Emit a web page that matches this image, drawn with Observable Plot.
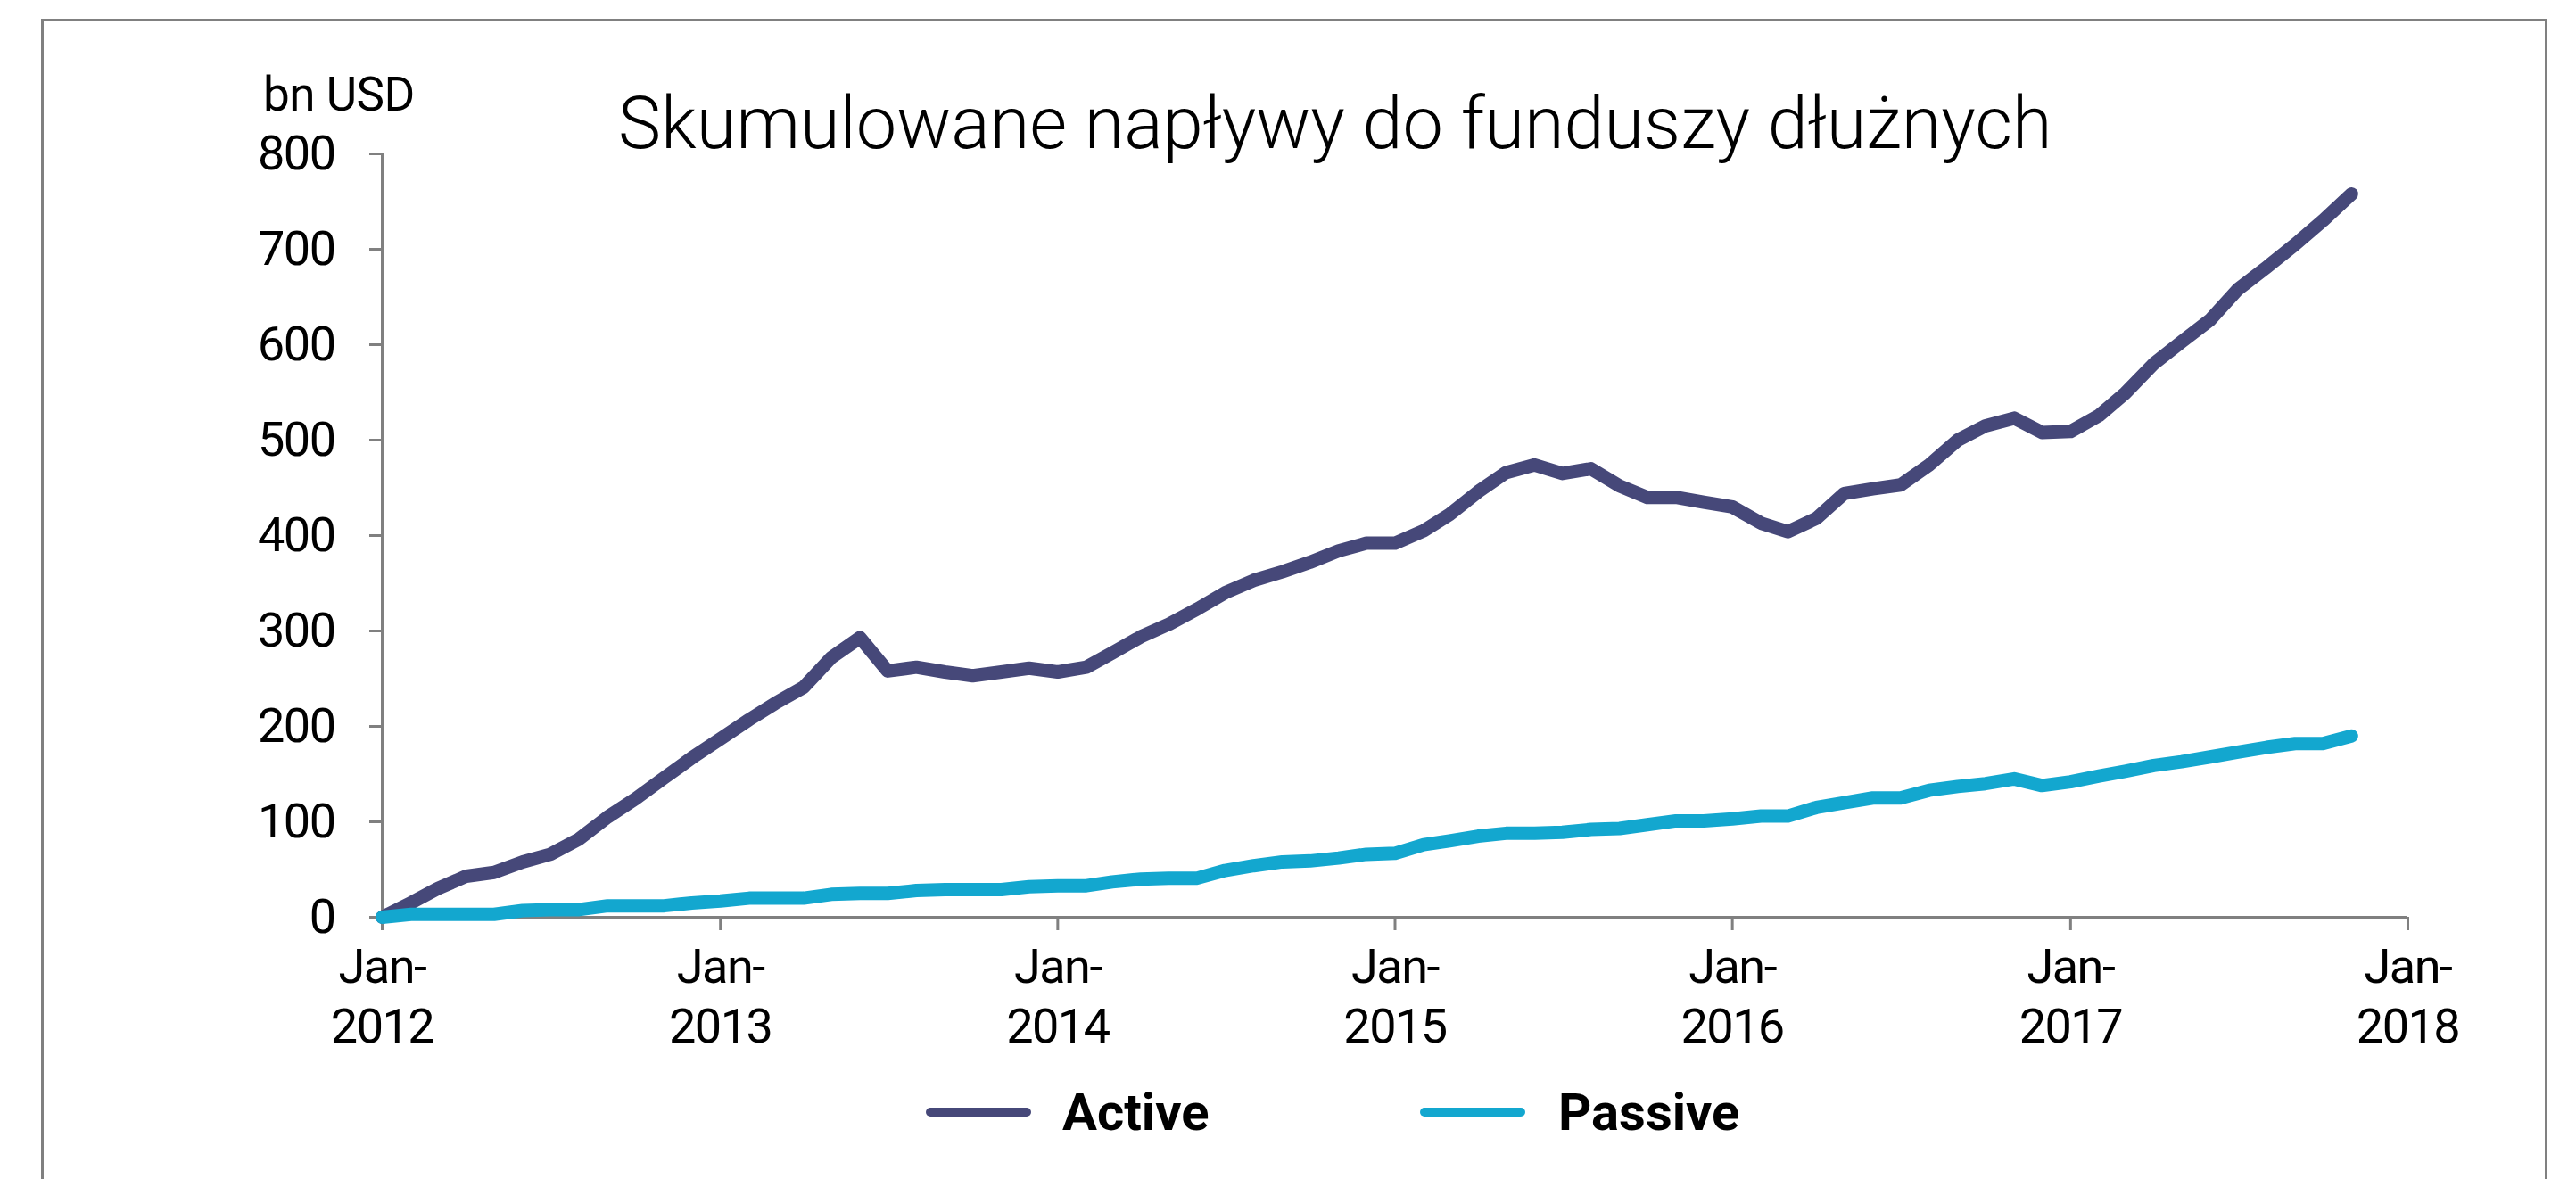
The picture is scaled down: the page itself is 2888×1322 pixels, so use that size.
<!DOCTYPE html>
<html>
<head>
<meta charset="utf-8">
<script src="https://cdn.jsdelivr.net/npm/d3@7"></script>
<script src="https://cdn.jsdelivr.net/npm/@observablehq/plot@0.6"></script>
<style>
  html, body { margin: 0; padding: 0; background: #fff; width: 2888px; height: 1322px; overflow: hidden; }
  #wrap { position: relative; width: 2888px; height: 1322px; }
  #frame { position: absolute; left: 46px; top: 21px; width: 2810px; height: 1420px; border: 3px solid #808080; box-sizing: border-box; }
  #chart { position: absolute; left: 0; top: 0; }
  #chart svg text { letter-spacing: -1.5px; }
  #title { position: absolute; left: 693px; top: 98px; font-family: Roboto, sans-serif; font-weight: 300; font-size: 81px; line-height: 81px; color: #000; white-space: nowrap; }
  #unit { position: absolute; left: 295px; top: 80px; font-family: Roboto, sans-serif; font-size: 53px; line-height: 53px; color: #000; white-space: nowrap; letter-spacing: -0.5px; }
  #legend { position: absolute; left: 0; top: 1218px; width: 2888px; height: 58px; }
  .sw { position: absolute; top: 24px; width: 118px; height: 10px; border-radius: 5px; }
  .lt { position: absolute; top: 0; height: 58px; line-height: 58px; font-family: Roboto, sans-serif; font-weight: 700; font-size: 58px; color: #000; white-space: nowrap; }
</style>
</head>
<body>
<div id="wrap">
  <div id="frame"></div>
  <div id="chart"></div>
  <div id="title"></div>
  <div id="unit"></div>
  <div id="legend"></div>
</div>
<script>
// ---- data (monthly, starting Jan 2012) ----
const firstMonth = "2012-01-01";
const seriesNames = ["Active", "Passive"];
const seriesColors = ["#464879", "#13a7cf"];
const active = [
  0, 15, 30, 43, 47, 58, 66, 82, 105, 124, 146, 167,
  187, 207, 224, 241, 272, 293, 258, 262, 257, 253, 257, 261,
  257, 262, 277, 294, 307, 323, 340, 353, 362, 372, 384, 392,
  392, 405, 422, 446, 466, 474, 465, 470, 452, 440, 440, 435,
  430, 413, 404, 418, 444, 449, 453, 474, 500, 515, 523, 508,
  509, 526, 549, 580, 603, 626, 658, 681, 705, 730, 758
];
const passive = [
  0, 3, 3, 3, 3, 7, 8, 8, 12, 12, 12, 15,
  17, 20, 20, 20, 24, 25, 25, 28, 29, 29, 29, 32,
  33, 33, 37, 40, 41, 41, 49, 54, 58, 59, 62, 66,
  67, 76, 80, 85, 88, 88, 89, 92, 93, 97, 101, 101,
  103, 106, 106, 115, 120, 125, 125, 133, 137, 140, 145, 138,
  142, 148, 153, 159, 163, 168, 173, 178, 182, 182, 190
];
const yTicks = [0, 100, 200, 300, 400, 500, 600, 700, 800];
const xTickYears = [2012, 2013, 2014, 2015, 2016, 2017, 2018];
const xTickPrefix = "Jan-";
const titleText = "Skumulowane napływy do funduszy dłużnych";
const unitText = "bn USD";

// ---- build table ----
const start = new Date(firstMonth + "T00:00:00Z");
const monthAt = i => d3.utcMonth.offset(start, i);
const table = [];
active.forEach((v, i) => table.push({date: monthAt(i), value: v, series: seriesNames[0]}));
passive.forEach((v, i) => table.push({date: monthAt(i), value: v, series: seriesNames[1]}));
const xTicks = xTickYears.map(y => new Date(Date.UTC(y, 0, 1)));

const W = 2888, H = 1200;
const axisColor = "#808080";

const chart = Plot.plot({
  width: W,
  height: H,
  marginLeft: 428,
  marginRight: W - 2699,
  marginTop: 172,
  marginBottom: H - 1028,
  style: {fontFamily: "Roboto, sans-serif", fontSize: "54px", color: "#000", background: "transparent", overflow: "visible"},
  x: {type: "utc", domain: [xTicks[0], xTicks[xTicks.length - 1]]},
  y: {domain: [0, 800]},
  color: {domain: seriesNames, range: seriesColors},
  marks: [
    Plot.axisY({ticks: yTicks, tickSize: 14, tickPadding: 39, stroke: axisColor, strokeWidth: 3, label: null, tickFormat: d => String(d)}),
    Plot.axisX({ticks: xTicks, tickSize: 15, tickPadding: 11, stroke: axisColor, strokeWidth: 3, label: null, lineHeight: 1.24, tickFormat: d => xTickPrefix + "\n" + d.getUTCFullYear()}),
    Plot.ruleY([0], {stroke: axisColor, strokeWidth: 3}),
    Plot.ruleX([xTicks[0]], {y1: 0, y2: 800, stroke: axisColor, strokeWidth: 3}),
    Plot.line(table, {x: "date", y: "value", z: "series", stroke: "series", strokeWidth: 15, strokeLinejoin: "round", strokeLinecap: "round"})
  ]
});
document.getElementById("chart").appendChild(chart);

document.getElementById("title").textContent = titleText;
document.getElementById("unit").textContent = unitText;

// ---- legend ----
const legend = document.getElementById("legend");
const legendPos = [{line: 1038, text: 1191}, {line: 1592, text: 1747}];
seriesNames.forEach((name, i) => {
  const sw = document.createElement("div");
  sw.className = "sw";
  sw.style.left = legendPos[i].line + "px";
  sw.style.background = seriesColors[i];
  legend.appendChild(sw);
  const t = document.createElement("div");
  t.className = "lt";
  t.style.left = legendPos[i].text + "px";
  t.textContent = name;
  legend.appendChild(t);
});
</script>
</body>
</html>
